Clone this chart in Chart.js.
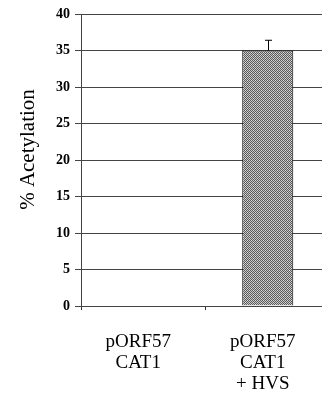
<!DOCTYPE html>
<html>
<head>
<meta charset="utf-8">
<style>
  html, body { margin: 0; padding: 0; background: #fff; overflow: hidden; }
  #wrap { width: 330px; height: 396px; }
</style>
<script src="https://cdn.jsdelivr.net/npm/chart.js@4"></script>
</head>
<body>
<div id="wrap"><canvas id="chart" width="330" height="396"></canvas></div>
<script>
// valeurs
const categories = [['pORF57', 'CAT1'], ['pORF57', 'CAT1', '+ HVS']];
const acetylation = [0, 35];
const errors = [0, 1.4];
const yTicks = [0, 5, 10, 15, 20, 25, 30, 35, 40];

// motif pointillé gris pour la barre
function makePattern() {
  const c = document.createElement('canvas');
  c.width = 4; c.height = 4;
  const g = c.getContext('2d');
  g.fillStyle = '#c4c4c4';
  g.fillRect(0, 0, 4, 4);
  g.fillStyle = '#5a5a5a';
  g.fillRect(0, 0, 1, 1); g.fillRect(2, 0, 1, 1);
  g.fillRect(1, 1, 1, 1); g.fillRect(3, 1, 1, 1);
  g.fillRect(0, 2, 1, 1); g.fillRect(2, 2, 1, 1);
  g.fillRect(1, 3, 1, 1); g.fillRect(3, 3, 1, 1);
  g.fillStyle = '#e0e0e0';
  g.fillRect(3, 0, 1, 1); g.fillRect(1, 2, 1, 1);
  return g.createPattern(c, 'repeat');
}

// barres d'erreur (seulement vers le haut)
const errorBars = {
  id: 'errorBars',
  afterDatasetsDraw(chart) {
    const ctx = chart.ctx;
    const meta = chart.getDatasetMeta(0);
    const y = chart.scales.y;
    ctx.save();
    ctx.strokeStyle = '#000';
    ctx.lineWidth = 1;
    meta.data.forEach((bar, i) => {
      if (!errors[i]) return;
      const x = Math.round(bar.x) + 0.5;
      const top = y.getPixelForValue(acetylation[i] + errors[i]);
      const base = y.getPixelForValue(acetylation[i]);
      ctx.beginPath();
      ctx.moveTo(x, base);
      ctx.lineTo(x, top);
      ctx.moveTo(x - 3.5, top);
      ctx.lineTo(x + 3.5, top);
      ctx.stroke();
    });
    ctx.restore();
  }
};

const serif = '"Liberation Serif", "Times New Roman", serif';

const ctx = document.getElementById('chart').getContext('2d');
const chart = new Chart(ctx, {
  type: 'bar',
  data: {
    labels: categories,
    datasets: [{
      data: acetylation,
      backgroundColor: makePattern(),
      borderColor: '#000',
      borderWidth: 1,
      barPercentage: 0.41,
      categoryPercentage: 1
    }]
  },
  options: {
    responsive: false,
    animation: false,
    layout: { padding: { top: 14, left: 0, right: 0, bottom: 0 } },
    plugins: { legend: { display: false }, tooltip: { enabled: false } },
    scales: {
      x: {
        grid: { display: true, drawOnChartArea: false, offset: true, tickLength: 4, color: '#333' },
        border: { display: false },
        ticks: {
          color: '#000',
          padding: 21,
          labelOffset: -5,
          maxRotation: 0,
          font: { family: serif, size: 19, lineHeight: 1.12 }
        },
        afterFit: (scale) => { scale.height = 90; }
      },
      y: {
        min: 0,
        max: 40,
        afterBuildTicks: (scale) => { scale.ticks = yTicks.map(v => ({ value: v })); },
        grid: { color: '#444', tickLength: 6 },
        border: { color: '#444' },
        ticks: {
          color: '#000',
          padding: 5,
          font: { family: serif, size: 14, weight: 'bold' }
        },
        title: {
          display: true,
          text: '    % Acetylation',
          color: '#000',
          padding: { top: 16, bottom: 0 },
          font: { family: serif, size: 21 }
        },
        afterFit: (scale) => { scale.width = 81; }
      }
    }
  },
  plugins: [errorBars]
});
</script>
</body>
</html>
